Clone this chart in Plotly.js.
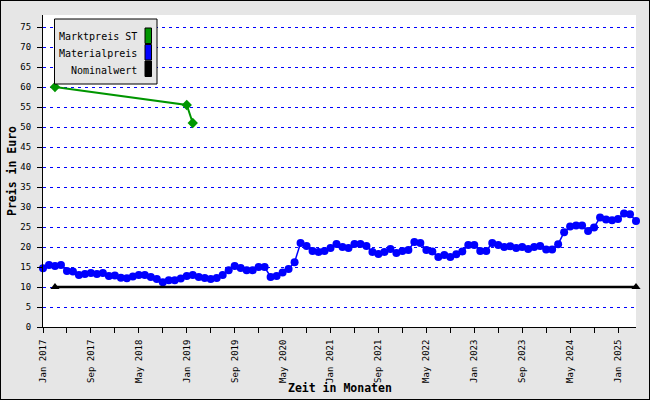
<!DOCTYPE html>
<html>
<head>
<meta charset="utf-8">
<script src="https://cdn.plot.ly/plotly-3.0.1.min.js"></script>
<style>
  html, body { margin: 0; padding: 0; background: #ffffff; }
  #chart { width: 648px; height: 398px; border: 1px solid #000; }
</style>
</head>
<body>
<div id="chart"></div>
<script>
// ---- data ----
const seriesNames = ["Marktpreis ST", "Materialpreis", "Nominalwert"];
const seriesColors = ["#009600", "#0000ff", "#000000"];
const xTitle = "Zeit in Monaten";
const yTitle = "Preis in Euro";

// monthly index 0 = Jan 2017 ... 99 = Apr 2025
const materialpreis = [
  14.7, 15.5, 15.25, 15.5, 14.0, 13.9, 13.0, 13.25, 13.5, 13.25,
  13.5, 12.75, 12.9, 12.3, 12.2, 12.6, 13.0, 13.0, 12.5, 12.0,
  11.2, 11.7, 11.7, 12.1, 12.75, 13.0, 12.5, 12.25, 12.0, 12.25,
  13.0, 14.2, 15.25, 14.75, 14.2, 14.2, 15.0, 15.0, 12.5, 12.75,
  13.6, 14.5, 16.2, 21.0, 20.25, 19.0, 18.75, 19.0, 19.75, 20.75,
  20.0, 19.75, 20.75, 20.75, 20.25, 18.75, 18.25, 18.75, 19.5, 18.5,
  19.0, 19.25, 21.25, 21.0, 19.25, 18.9, 17.5, 18.0, 17.5, 18.2,
  18.9, 20.5, 20.5, 19.0, 19.0, 21.0, 20.5, 20.0, 20.2, 19.75,
  20.0, 19.5, 20.0, 20.25, 19.4, 19.4, 20.7, 23.7, 25.1, 25.4,
  25.4, 24.0, 24.9, 27.4, 26.9, 26.7, 27.0, 28.4, 28.2, 26.5
];
const marktpreisMonths = [2, 24, 25];
const marktpreis = [60, 55.5, 51];
const nominalMonths = [2, 99];
const nominalwert = [10, 10];

const tickLabels = ["Jan 2017", "Sep 2017", "May 2018", "Jan 2019", "Sep 2019",
  "May 2020", "Jan 2021", "Sep 2021", "May 2022", "Jan 2023", "Sep 2023",
  "May 2024", "Jan 2025"];

// ---- build ----
const monthIdx = materialpreis.map((_, i) => i);
const tickvals = [], ticktext = [];
for (let i = 0; i < monthIdx.length; i += 4) {
  tickvals.push(i);
  ticktext.push(i % 8 === 0 ? (tickLabels[i / 8] || "") : "");
}

const FONT = "DejaVu Sans Mono";

const traces = [
  {
    x: marktpreisMonths, y: marktpreis, name: seriesNames[0], type: "scatter",
    mode: "lines+markers", cliponaxis: false,
    line: { color: seriesColors[0], width: 2 },
    marker: { symbol: "diamond", size: 8, color: seriesColors[0] }
  },
  {
    x: monthIdx, y: materialpreis, name: seriesNames[1], type: "scatter",
    mode: "lines+markers", cliponaxis: false,
    line: { color: seriesColors[1], width: 1.5 },
    marker: { symbol: "circle", size: 8, color: seriesColors[1] }
  },
  {
    x: nominalMonths, y: nominalwert, name: seriesNames[2], type: "scatter",
    mode: "lines+markers", cliponaxis: false,
    line: { color: seriesColors[2], width: 2.5 },
    marker: { symbol: "triangle-up", size: 8, color: seriesColors[2] }
  }
];

// plot area in image pixels: left 43, right 636, top 15, bottom 327
const PL = 43, PR = 636, PT = 15, PB = 327;
const px = v => (v - PL) / (PR - PL);
const py = v => (PB - v) / (PB - PT);

const shapes = [
  { type: "rect", xref: "paper", yref: "paper",
    x0: px(54.5), x1: px(157), y0: py(84), y1: py(19),
    fillcolor: "#e6e6e6", line: { color: "#000", width: 1 }, layer: "above" }
];
const annotations = [];
const swatchTop = [28, 44.5, 61];
const textY = [36.5, 53.5, 70];
seriesNames.forEach((n, i) => {
  shapes.push({ type: "rect", xref: "paper", yref: "paper",
    x0: px(145), x1: px(151.5), y0: py(swatchTop[i] + 15.5), y1: py(swatchTop[i]),
    fillcolor: seriesColors[i], line: { color: "#000", width: 1 }, layer: "above" });
  annotations.push({ xref: "paper", yref: "paper", x: px(139), y: py(textY[i]),
    xanchor: "right", yanchor: "middle", showarrow: false, text: n,
    font: { family: FONT, size: 10, color: "#000" } });
});
// axis titles
annotations.push({ xref: "paper", yref: "paper", x: px(340), y: py(388),
  xanchor: "center", yanchor: "middle", showarrow: false,
  text: "<b>" + xTitle + "</b>", font: { family: FONT, size: 11.5, color: "#000" } });
annotations.push({ xref: "paper", yref: "paper", x: px(12), y: py(171),
  xanchor: "center", yanchor: "middle", showarrow: false, textangle: -90,
  text: "<b>" + yTitle + "</b>", font: { family: FONT, size: 11.5, color: "#000" } });

const layout = {
  width: 648, height: 398,
  margin: { l: 42, r: 13, t: 14, b: 72, pad: 0 },
  paper_bgcolor: "#e6e6e6",
  plot_bgcolor: "#ffffff",
  showlegend: false,
  font: { family: FONT, size: 9, color: "#000" },
  xaxis: {
    range: [0, 99], showgrid: false, zeroline: false,
    showline: true, linecolor: "#000", linewidth: 1,
    ticks: "outside", ticklen: 5, tickcolor: "#000", tickwidth: 1,
    tickmode: "array", tickvals: tickvals, ticktext: ticktext,
    tickangle: -90, tickfont: { family: FONT, size: 9, color: "#000" },
    ticklabelstandoff: 3
  },
  yaxis: {
    range: [0, 78], tick0: 0, dtick: 5, zeroline: false,
    showgrid: true, gridcolor: "#0000ff", gridwidth: 1, griddash: "3px,4px",
    showline: true, linecolor: "#000", linewidth: 1,
    ticks: "outside", ticklen: 5, tickcolor: "#000", tickwidth: 1,
    tickfont: { family: FONT, size: 9, color: "#000" },
    ticklabelstandoff: 4
  },
  shapes: shapes,
  annotations: annotations
};

Plotly.newPlot("chart", traces, layout, { displayModeBar: false, staticPlot: true });
</script>
</body>
</html>
